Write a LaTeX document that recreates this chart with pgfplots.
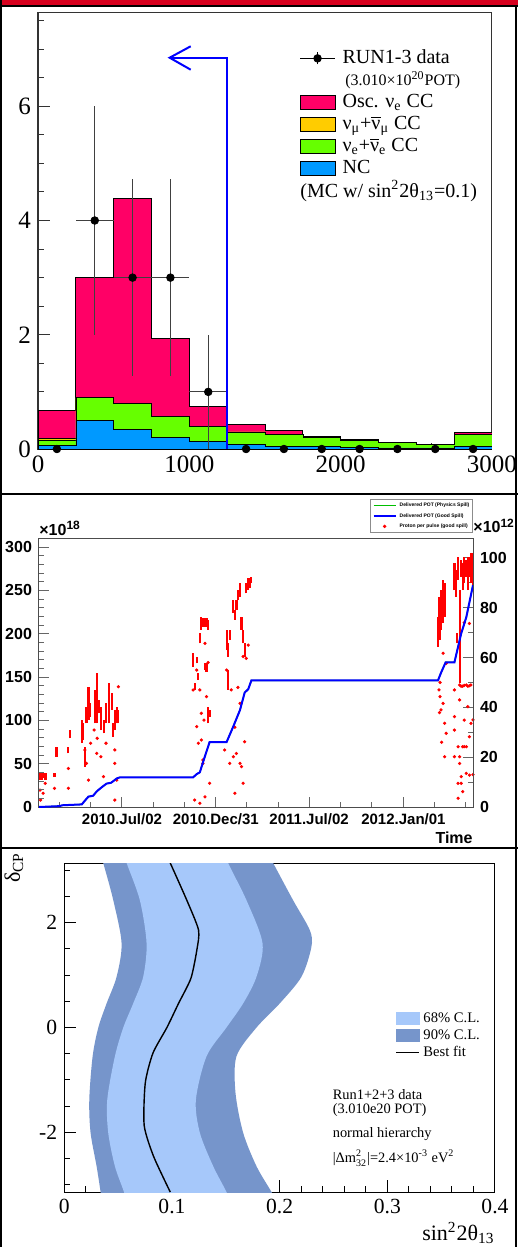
\documentclass[border=0pt]{standalone}
\usepackage{fontspec}
\setmainfont{Liberation Serif}
\newfontfamily\hv{Liberation Sans}
\usepackage{pgfplots}
\pgfplotsset{compat=1.18}

\definecolor{oscc}{RGB}{255,0,102}
\definecolor{numuc}{RGB}{255,204,0}
\definecolor{nuec}{RGB}{102,255,0}
\definecolor{ncc}{RGB}{0,153,255}
\definecolor{banner}{RGB}{214,0,30}
\definecolor{cl68}{RGB}{166,200,250}
\definecolor{cl90}{RGB}{118,149,203}

\begin{document}
\begin{tikzpicture}
\fill[white] (0,0) rectangle (259pt,-623.5pt);
\path[use as bounding box] (0,0) rectangle (259pt,-623.5pt);

% ---------------- panel 1: reconstructed energy spectrum
\begin{axis}[
  at={(19pt,-224.5pt)}, anchor=south west, scale only axis,
  width=227pt, height=218.5pt,
  xmin=0, xmax=3000, ymin=0, ymax=7.65,
  xtick={0,1000,2000,3000}, minor xtick={200,400,...,2800},
  ytick={0,2,4,6}, minor ytick={0.5,1,1.5,2.5,3,3.5,4.5,5,5.5,6.5,7,7.5},
  tick pos=left, tick align=inside,
  major tick length=6pt, minor tick length=3pt,
  tick style={black!80, line width=0.5pt},
  axis line style={black!80, line width=0.5pt},
  tick label style={font=\fontsize{12.5}{13}\selectfont},
  /pgf/number format/assume math mode=true,
  /pgf/number format/1000 sep={},
  clip mode=individual,
  legend style={at={(0.575,0.92)}, anchor=north west, draw=none, fill=none,
    inner sep=0pt, font=\fontsize{10}{11}\selectfont, row sep=0pt, column sep=3pt,
    nodes={inner sep=0.5pt, text height=7.5pt, text depth=2.5pt}},
  legend cell align=left,
]
\addplot[const plot, fill=oscc, draw=black, line width=0.4pt, forget plot] coordinates {
  (0,0.68)(250,3.0)(500,4.39)(750,1.93)(1000,0.75)(1250,0.43)(1500,0.32)
  (1750,0.22)(2000,0.16)(2250,0.12)(2500,0.08)(2750,0.29)(3000,0.29)} \closedcycle;
\addplot[const plot, fill=numuc, draw=black, line width=0.3pt, forget plot] coordinates {
  (0,0.19)(250,0.9)(500,0.80)(750,0.57)(1000,0.40)(1250,0.30)(1500,0.26)
  (1750,0.20)(2000,0.15)(2250,0.11)(2500,0.075)(2750,0.26)(3000,0.26)} \closedcycle;
\addplot[const plot, fill=nuec, draw=black, line width=0.3pt, forget plot] coordinates {
  (0,0.16)(250,0.9)(500,0.80)(750,0.57)(1000,0.40)(1250,0.30)(1500,0.26)
  (1750,0.20)(2000,0.15)(2250,0.11)(2500,0.075)(2750,0.26)(3000,0.26)} \closedcycle;
\addplot[const plot, fill=ncc, draw=black, line width=0.3pt, forget plot] coordinates {
  (0,0.07)(250,0.5)(500,0.35)(750,0.2)(1000,0.14)(1250,0.076)(1500,0.05)
  (1750,0.04)(2000,0.03)(2250,0.02)(2500,0.02)(2750,0.05)(3000,0.05)} \closedcycle;
% data with errors
\addplot[only marks, mark=*, mark size=1.9pt, black, forget plot,
  error bars/.cd, x dir=both, x explicit, y dir=both, y explicit, error mark=none,
  error bar style={black!75, line width=0.6pt}] coordinates {
  (375,4) +- (125,2) (625,3) +- (125,1.73) (875,3) +- (125,1.73) (1125,1) +- (125,1)};
\addplot[only marks, mark=*, mark size=1.9pt, black, forget plot] coordinates {
  (125,0)(1375,0)(1625,0)(1875,0)(2125,0)(2375,0)(2625,0)(2875,0)};
% selection cut arrow
\addplot[blue, line width=1pt, forget plot] coordinates {(1250,0)(1250,6.85)(870,6.85)};
\addplot[blue, line width=1pt, forget plot] coordinates {(1009,7.05)(870,6.85)(1009,6.64)};

\addlegendimage{legend image code/.code={
  \draw[black, line width=0.6pt] (0pt,0pt) -- (17.5pt,0pt);
  \draw[black, line width=0.6pt] (8.75pt,-3pt) -- (8.75pt,3pt);
  \fill[black] (8.75pt,0pt) circle (1.9pt);}}
\addlegendentry{RUN1-3 data}
\addlegendimage{empty legend}
\addlegendentry{\fontsize{8}{9}\selectfont\,(3.010×10\textsuperscript{20}POT)}
\addlegendimage{legend image code/.code={\draw[fill=oscc, draw=black] (0pt,-3.5pt) rectangle (17.5pt,3.5pt);}}
\addlegendentry{Osc. ν\textsubscript{e} CC}
\addlegendimage{legend image code/.code={\draw[fill=numuc, draw=black] (0pt,-3.5pt) rectangle (17.5pt,3.5pt);}}
\addlegendentry{ν\textsubscript{μ}+$\overline{\mbox{ν}}$\textsubscript{μ} CC}
\addlegendimage{legend image code/.code={\draw[fill=nuec, draw=black] (0pt,-3.5pt) rectangle (17.5pt,3.5pt);}}
\addlegendentry{ν\textsubscript{e}+$\overline{\mbox{ν}}$\textsubscript{e} CC}
\addlegendimage{legend image code/.code={\draw[fill=ncc, draw=black] (0pt,-3.5pt) rectangle (17.5pt,3.5pt);}}
\addlegendentry{NC}
\node[anchor=base west, font=\fontsize{10}{11}\selectfont, inner sep=0pt] at (axis cs:1731,4.41)
  {(MC w/ sin\textsuperscript{2}2θ\textsubscript{13}=0.1)};
\end{axis}

% ---------------- panel 2: protons per pulse (right scale)
\begin{axis}[
  at={(19.5pt,-403.5pt)}, anchor=south west, scale only axis,
  width=217pt, height=134.5pt,
  xmin=0, xmax=842, ymin=0, ymax=108,
  hide x axis, axis y line*=right,
  ytick={0,20,...,100}, minor y tick num=1,
  tick align=inside, major tick length=5pt, minor tick length=2.5pt,
  tick style={black!60, line width=0.5pt},
  axis line style={black!70, line width=0.5pt},
  tick label style={font=\hv\bfseries\fontsize{8}{9}\selectfont},
  /pgf/number format/assume math mode=true,
  unbounded coords=jump,
  extra description/.code={
    \node[anchor=base west, font=\hv\bfseries\fontsize{8}{9}\selectfont, inner sep=0pt]
      at (axis description cs:1,1.019) {×10\textsuperscript{12}};},
]
\addplot[red, line width=1.1pt] coordinates {
(2,10.8)(2,13.8)(2,nan) (5,10.8)(5,13.8)(5,nan) (8,11.5)(8,13.8)(8,nan)
(11,10.8)(11,13.5)(11,nan) (14,11)(14,13.5)(14,nan) (30,12.2)(30,13.8)(30,nan)
(34,20.2)(34,24.2)(34,nan) (57,21.5)(57,24.2)(57,nan) (60,27.6)(60,30.9)(60,nan)
(83,25.6)(83,34.9)(83,nan) (86,26.9)(86,33.6)(86,nan) (89,16.2)(89,24.2)(89,nan)
(92,33.6)(92,40.3)(92,nan) (96,35)(96,48.3)(96,nan) (99,36.3)(99,41.6)(99,nan)
(109,33.6)(109,47)(109,nan) (113,33.6)(113,53.7)(113,nan) (117,37.6)(117,43)(117,nan)
(121,30.9)(121,40.3)(121,nan) (126,29.6)(126,34.9)(126,nan) (130,33.6)(130,41.6)(130,nan)
(136,33.6)(136,49.7)(136,nan) (141,39)(141,45.6)(141,nan) (144,28.2)(144,33.6)(144,nan)
(147,30.9)(147,39)(147,nan) (151,33.6)(151,40.3)(151,nan) (154,33.6)(154,39)(154,nan)
(299,56.4)(299,61.7)(299,nan) (302,47)(302,49.7)(302,nan) (306,57.7)(306,60.4)(306,nan)
(309,51)(309,53.7)(309,nan) (312,65.7)(312,69.7)(312,nan) (315,71.1)(315,76.4)(315,nan)
(318,72.4)(318,75.8)(318,nan) (322,72.4)(322,75.8)(322,nan) (325,72.4)(325,75.8)(325,nan)
(328,71.1)(328,75.1)(328,nan) (322,55)(322,57.7)(322,nan) (325,54.3)(325,57.7)(325,nan)
(328,33.6)(328,40.3)(328,nan) (331,36.3)(331,39)(331,nan)
(364,63)(364,71.1)(364,nan) (367,47)(367,55)(367,nan) (367,60.4)(367,65.7)(367,nan)
(370,67.1)(370,71.1)(370,nan) (377,77.8)(377,83.1)(377,nan) (380,75.1)(380,79.1)(380,nan)
(383,79.1)(383,83.1)(383,nan) (386,83.1)(386,87.1)(386,nan) (390,84.5)(390,89.8)(390,nan)
(393,71.1)(393,76.4)(393,nan) (396,65.7)(396,71.1)(396,nan) (399,60.4)(399,65.7)(399,nan)
(402,85.8)(402,89.8)(402,nan) (406,87.1)(406,91.8)(406,nan) (409,87.8)(409,91.8)(409,nan)
(412,89.8)(412,92.5)(412,nan)
(774,64.4)(774,76.4)(774,nan) (777,67.1)(777,84.5)(777,nan) (780,71.1)(780,87.1)(780,nan)
(784,73.7)(784,91.2)(784,nan) (787,76.4)(787,89.8)(787,nan)
(806,87.1)(806,97.8)(806,nan) (809,84.5)(809,95.2)(809,nan) (811,65.7)(811,69.7)(811,nan)
(813,91.2)(813,100.5)(813,nan) (816,49.7)(816,87.1)(816,nan) (819,92.5)(819,99.2)(819,nan)
(822,87.1)(822,97.8)(822,nan) (825,89.8)(825,100.5)(825,nan) (829,92.5)(829,99.2)(829,nan)
(832,87.1)(832,100.5)(832,nan) (835,92.5)(835,100.5)(835,nan) (838,89.8)(838,101.9)(838,nan)
(842,87.1)(842,101.9)(842,nan)
};
\addplot[only marks, mark=*, mark size=0.6pt, red] coordinates {
(2,6.8)(3,2.8)(12,9.5)(8,5.5)(30,7.5)(57,15.5)(57,7.5)(89,22.9)(92,17.5)(96,10.8)
(107,30.9)(112,21.5)(120,20.2)(125,12.2)(147,22.9)(147,17.5)(151,10.8)(147,2.8)
(154,48.3)(130,25.6)(100,25.6)(113,27.6)
(312,1.5)(322,4.1)(331,9.5)(306,32.3)(312,47)(315,26.9)(309,25.6)(325,44.3)(322,65.7)
(318,18.9)(318,17.5)(302,2.8)(315,37.6)(320,34.9)(306,55)(299,47)(328,58)
(360,22.9)(370,17.5)(377,20.2)(383,21.5)(390,17.5)(393,16.2)(396,9.5)(380,5.5)(399,26.2)
(364,55)(373,47)(396,60.4)(402,59.7)(390,41.6)(386,48)(380,32)(406,65)
(776,47)(778,44.3)(784,41.6)(780,39)(777,37.9)(787,33.6)(790,29.6)(787,20.2)(784,61.7)
(790,57.7)(781,26)(778,50)
(806,47)(806,36.3)(806,30.9)(806,20.2)(813,24.2)(816,20.2)(816,17.5)(819,12.2)(819,9.5)
(822,24.2)(825,24.2)(829,24.2)(829,13.5)(835,12.8)(822,6.2)(813,9.5)(838,33.6)(835,28.2)
(832,40.3)(825,34.9)(816,43)(813,3.5)(825,74)(835,73.7)(816,49)(819,48.5)(822,48.5)
(825,48.8)(829,49)(832,48.5)(835,48.7)(838,49)(842,35)(842,13)
};
\end{axis}

% ---------------- panel 2: delivered POT (left scale)
\begin{axis}[
  at={(19.5pt,-403.5pt)}, anchor=south west, scale only axis,
  width=217pt, height=134.5pt,
  xmin=0, xmax=842, ymin=0, ymax=310.4,
  xtick={161,343,524,707},
  xticklabels={2010.Jul/02,2010.Dec/31,2011.Jul/02,2012.Jan/01},
  minor xtick={39,100,222,282,403,464,585,646,768,828},
  ytick={0,50,...,300}, minor y tick num=4,
  tick pos=left, tick align=inside,
  major tick length=5pt, minor tick length=2.5pt,
  tick style={black!60, line width=0.5pt},
  axis line style={black!70, line width=0.5pt},
  yticklabel style={font=\hv\bfseries\fontsize{8}{9}\selectfont},
  xticklabel style={font=\hv\bfseries\fontsize{7.5}{8}\selectfont},
  /pgf/number format/assume math mode=true,
  legend style={at={(1,1.0186)}, anchor=south east, draw=black!45, line width=0.6pt,
    fill=white, font=\hv\bfseries\fontsize{2.5}{3}\selectfont,
    inner xsep=1.1pt, inner ysep=1.15pt, row sep=1.55pt, column sep=1.2pt,
    nodes={inner sep=0.4pt, text height=2.2pt, text depth=0.7pt}},
  legend cell align=left,
  extra description/.code={
    \node[anchor=base west, font=\hv\bfseries\fontsize{8}{9}\selectfont, inner sep=0pt]
      at (axis description cs:0,1.011) {×10\textsuperscript{18}};
    \node[anchor=base east, font=\hv\bfseries\fontsize{8}{9}\selectfont, inner sep=0pt]
      at (axis description cs:1,-0.134) {Time};},
]
\addplot[green!75!black, line width=0.6pt, forget plot] coordinates {
  (0,0)(40,1)(45,2)(83,3)(90,8)(96,12)(105,13)(112,18)(120,22)(131,27)(140,28)(151,33)
  (157,34.2)(299,34.2)(306,38)(312,40)(320,55)(331,75)(364,75)(377,93)(390,112)(399,132)
  (406,136)(412,146)(774,146)(780,155)(789,167)(806,167)(819,200)(829,219)(842,256)};
\addplot[blue, line width=1pt, forget plot] coordinates {
  (0,0)(40,1)(45,2)(83,3)(90,8)(96,12)(105,13)(112,18)(120,22)(131,27)(140,28)(151,33)
  (157,34.2)(299,34.2)(306,38)(312,40)(320,55)(331,75)(364,75)(377,93)(390,112)(399,132)
  (406,136)(412,146)(774,146)(780,155)(789,167)(806,167)(819,200)(829,219)(842,256)};
\addlegendimage{legend image code/.code={\draw[green!75!black, line width=0.5pt] (0pt,0pt) -- (11pt,0pt);}}
\addlegendentry{Delivered POT (Physics Spill)}
\addlegendimage{legend image code/.code={\draw[blue, line width=0.8pt] (0pt,0pt) -- (11pt,0pt);}}
\addlegendentry{Delivered POT (Good Spill)}
\addlegendimage{legend image code/.code={\fill[red] (5.5pt,0pt) circle (0.5pt);}}
\addlegendentry{Proton per pulse (good spill)}
\end{axis}

% ---------------- panel 3: allowed regions
\begin{axis}[
  at={(32.15pt,-596pt)}, anchor=south west, scale only axis,
  width=215.35pt, height=164.5pt,
  xmin=0, xmax=0.4, ymin=-3.1416, ymax=3.1416,
  xtick={0,0.1,0.2,0.3,0.4}, minor x tick num=4,
  ytick={-2,0,2}, minor ytick={-3,-2.5,-1.5,-1,-0.5,0.5,1,1.5,2.5,3},
  tick pos=left, tick align=inside,
  major tick length=6pt, minor tick length=3pt,
  tick style={black, line width=0.5pt},
  axis line style={black, line width=0.5pt},
  tick label style={font=\fontsize{10.8}{12}\selectfont},
  /pgf/number format/assume math mode=true,
  legend style={at={(0.768,0.555)}, anchor=north west, draw=none, fill=none,
    inner sep=0pt, font=\fontsize{7.3}{8}\selectfont, row sep=0pt, column sep=1.2pt,
    nodes={inner sep=0.5pt, text height=5.8pt, text depth=1.7pt}},
  legend cell align=left,
  extra description/.code={
    \node[rotate=90, anchor=east, font=\fontsize{11}{12}\selectfont, inner sep=0pt]
      at (axis description cs:-0.117,1.033) {δ\textsubscript{CP}};
    \node[anchor=base east, font=\fontsize{11}{12}\selectfont, inner sep=0pt]
      at (axis description cs:1,-0.146) {sin\textsuperscript{2}2θ\textsubscript{13}};},
]
\addplot[fill=cl90, draw=none, smooth, forget plot] coordinates {
  (0.036,-3.5)(0.0337,-3.14)(0.0300,-2.65)(0.0244,-2.01)(0.0232,-1.38)(0.0263,-0.55)
  (0.0316,0)(0.0393,0.46)(0.0486,0.97)(0.0532,1.61)(0.0455,2.43)(0.0362,3.14)(0.031,3.5)
  (0.185,3.5)(0.1940,3.14)(0.2125,2.43)(0.2280,1.86)(0.2295,1.54)(0.2203,0.97)
  (0.2001,0.46)(0.1785,0)(0.1599,-0.55)(0.1590,-1.25)(0.1661,-2.01)(0.1785,-2.65)
  (0.1924,-3.14)(0.202,-3.5)};
\addplot[fill=cl68, draw=none, smooth, forget plot] coordinates {
  (0.060,-3.5)(0.0554,-3.14)(0.0470,-2.65)(0.0408,-2.01)(0.0399,-1.38)(0.0470,-0.55)
  (0.0548,0)(0.0640,0.46)(0.0733,0.97)(0.0764,1.61)(0.0702,2.43)(0.0579,3.14)(0.052,3.5)
  (0.146,3.5)(0.1522,3.14)(0.1692,2.43)(0.1841,1.61)(0.1785,0.97)(0.1661,0.46)
  (0.1506,0)(0.1321,-0.55)(0.1222,-1.38)(0.1259,-2.01)(0.1383,-2.65)(0.1506,-3.14)
  (0.158,-3.5)};
\addplot[black, line width=0.7pt, smooth, tension=0.4, forget plot] coordinates {
  (0.0984,-3.1416)(0.0829,-2.46)(0.0742,-1.87)(0.0752,-1.06)(0.0823,-0.49)(0.0953,0)
  (0.1061,0.46)(0.1176,0.94)(0.1231,1.48)(0.1247,1.86)(0.1138,2.43)(0.0984,3.1416)};
\addlegendimage{legend image code/.code={\fill[cl68] (0pt,-3pt) rectangle (11.5pt,3pt);}}
\addlegendentry{68\% C.L.}
\addlegendimage{legend image code/.code={\fill[cl90] (0pt,-3pt) rectangle (11.5pt,3pt);}}
\addlegendentry{90\% C.L.}
\addlegendimage{legend image code/.code={\draw[black, line width=0.8pt] (0pt,0pt) -- (11.5pt,0pt);}}
\addlegendentry{Best fit}
\node[anchor=base west, font=\fontsize{7.2}{8}\selectfont, inner sep=0pt] at (axis cs:0.249,-1.38) {Run1+2+3 data};
\node[anchor=base west, font=\fontsize{7.2}{8}\selectfont, inner sep=0pt] at (axis cs:0.249,-1.65) {(3.010e20 POT)};
\node[anchor=base west, font=\fontsize{7.2}{8}\selectfont, inner sep=0pt] at (axis cs:0.249,-2.10) {normal hierarchy};
\node[anchor=base west, font=\fontsize{7.2}{8}\selectfont, inner sep=0pt] at (axis cs:0.249,-2.58)
  {|Δm$^{\mbox{\fontsize{5}{5}\selectfont 2}}_{\mbox{\fontsize{5}{5}\selectfont 32}}$|=2.4×10\textsuperscript{-3} eV\textsuperscript{2}};
\end{axis}

% ---------------- frames
\fill[banner] (0,0) rectangle (259pt,-2.5pt);
\fill[black] (0,-2.5pt) rectangle (259pt,-3.5pt);
\fill[black] (0,0) rectangle (1pt,-623.5pt);
\fill[black] (257.5pt,-2.5pt) rectangle (258.5pt,-623.5pt);
\fill[white] (258.5pt,-3.5pt) rectangle (259pt,-623.5pt);
\fill[black] (0,-246.5pt) rectangle (259pt,-247.5pt);
\fill[black] (0,-423.5pt) rectangle (259pt,-424.5pt);
\end{tikzpicture}
\end{document}
